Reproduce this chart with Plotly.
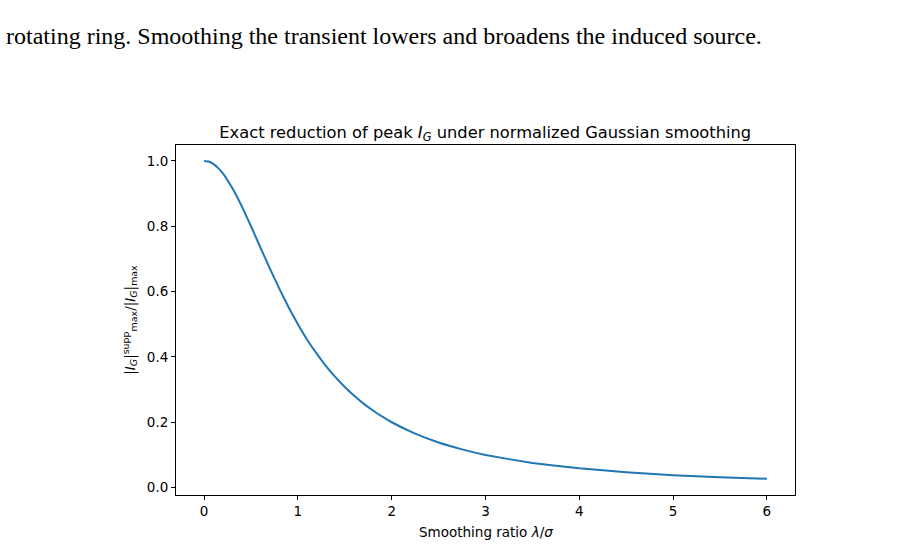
import plotly.graph_objects as go

# Smoothing ratio lambda/sigma and normalized peak values
ratio = [0.0, 0.05, 0.1, 0.15, 0.2, 0.3, 0.4, 0.5, 0.6, 0.7, 0.8, 0.9, 1.0, 1.1, 1.2, 1.3,
         1.4, 1.5, 1.6, 1.7, 1.8, 1.9, 2.0, 2.25, 2.5, 2.75, 3.0, 3.5, 4.0, 4.5, 5.0, 5.5, 6.0]
peak_ratio = [1.0, 0.998, 0.990, 0.978, 0.962, 0.917, 0.862, 0.800, 0.735, 0.671, 0.610,
              0.552, 0.500, 0.452, 0.410, 0.372, 0.338, 0.308, 0.281, 0.257, 0.236, 0.217,
              0.200, 0.165, 0.138, 0.117, 0.100, 0.075, 0.059, 0.047, 0.038, 0.032, 0.027]
x_ticks = [0, 1, 2, 3, 4, 5, 6]
y_ticks = [0.0, 0.2, 0.4, 0.6, 0.8, 1.0]
y_tick_labels = ["0.0", "0.2", "0.4", "0.6", "0.8", "1.0"]

fig = go.Figure()
fig.add_trace(go.Scatter(x=ratio, y=peak_ratio, mode="lines",
                         line=dict(color="#1f77b4", width=2, shape="spline", smoothing=0.3),
                         showlegend=False))

axis_common = dict(showline=True, linecolor="black", linewidth=1, mirror=True,
                   ticks="outside", ticklen=4, tickcolor="black", showgrid=False,
                   zeroline=False, tickfont=dict(family="DejaVu Sans", size=13.5, color="black"))

fig.update_xaxes(range=[-0.3, 6.3], tickvals=x_ticks, automargin=False, **axis_common)
fig.update_yaxes(range=[-0.0227, 1.0487], tickvals=y_ticks, ticktext=y_tick_labels, **axis_common,
                 title=dict(text="|<i>I<sub>G</sub></i>|<sup>supp</sup><sub>max</sub>/|<i>I<sub>G</sub></i>|<sub>max</sub>",
                            font=dict(family="DejaVu Sans", size=13.5, color="black"),
                            standoff=8))

fig.update_layout(
    width=913, height=546,
    margin=dict(l=176, r=118, t=145, b=51),
    paper_bgcolor="white", plot_bgcolor="white",
    title=dict(text="Exact reduction of peak <i>I<sub>G</sub></i> under normalized Gaussian smoothing",
               x=0.5315, xanchor="center", y=1 - 132 / 546, yanchor="middle",
               font=dict(family="DejaVu Sans", size=16.3, color="black")),
)

# x-axis title placed as a paper annotation below the tick labels
fig.add_annotation(text="Smoothing ratio <i>λ</i>/<i>σ</i>",
                   xref="paper", yref="paper", x=0.5, y=-(532 - 495) / 350,
                   xanchor="center", yanchor="middle", showarrow=False,
                   font=dict(family="DejaVu Sans", size=13.5, color="black"))

fig.add_annotation(text="rotating ring. Smoothing the transient lowers and broadens the induced source.",
                   xref="paper", yref="paper", x=(4 - 176) / 619, y=1 + (145 - 36) / 350,
                   xanchor="left", yanchor="middle", showarrow=False,
                   font=dict(family="Liberation Serif", size=24, color="black"))

fig.write_html("out.html")
